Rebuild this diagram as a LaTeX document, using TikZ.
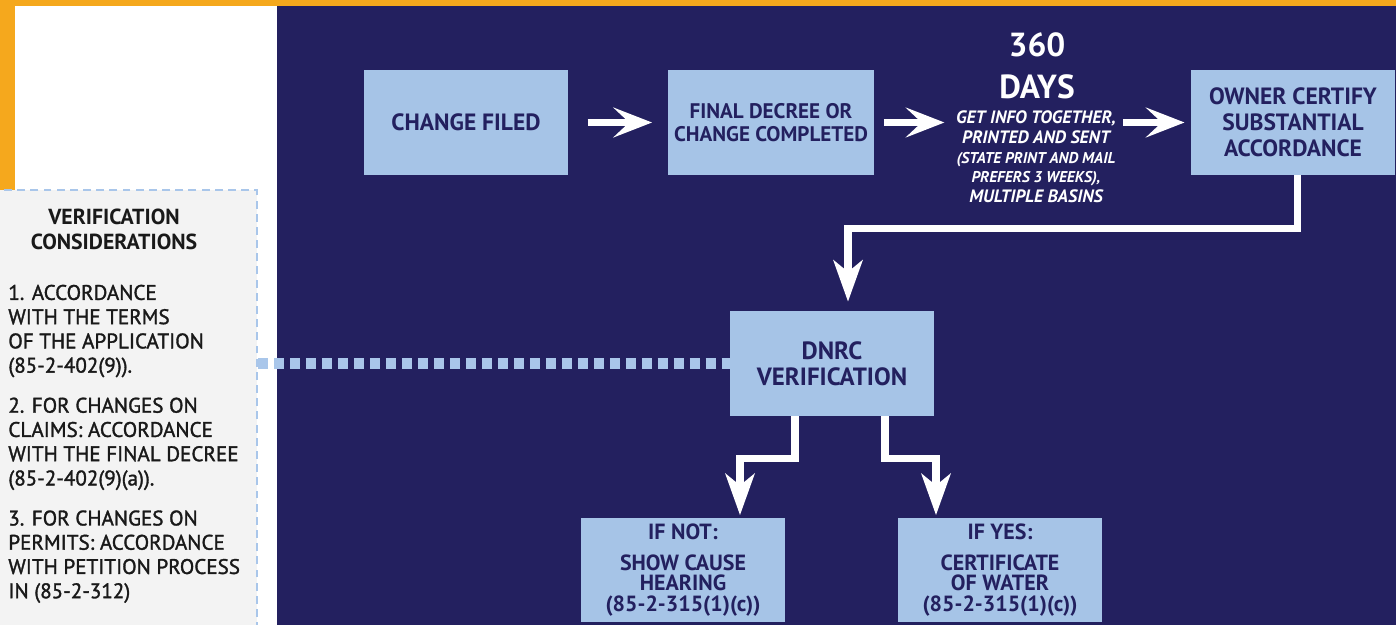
\documentclass[tikz,border=0pt]{standalone}
\usepackage{fontspec}
\setmainfont{PT Sans}
\newfontfamily\medfont[FakeBold=1.5]{PT Sans}
\usetikzlibrary{positioning,calc,arrows.meta}

\definecolor{navy}{RGB}{35,32,95}
\definecolor{boxblue}{RGB}{166,196,231}
\definecolor{goldbar}{RGB}{245,168,29}
\definecolor{panelgray}{RGB}{243,243,243}
\definecolor{dashblue}{RGB}{169,198,234}
\definecolor{inkgray}{RGB}{25,25,25}

\newcommand\infobig{\fontsize{10.2}{11.2}\selectfont}
\newcommand\infosmall{\fontsize{8.9}{11.2}\selectfont}

\tikzset{
  stagebox/.style={fill=boxblue, draw=none, minimum width=4.08cm, minimum height=2.1cm,
    align=center, text=navy, font=\bfseries\fontsize{13.4}{14.7}\selectfont},
  flowarrow/.style={draw=white, line width=4.2pt, -{Stealth[length=22pt,width=17pt,inset=9pt]}},
  elbowarrow/.style={draw=white, line width=4pt, -{Stealth[length=23.5pt,width=16.5pt,inset=6.6pt]}},
  dotlink/.style={draw=dashblue, line width=6.8pt, dash pattern=on 5.7pt off 3.4pt},
  panelbox/.style={fill=panelgray, draw=dashblue, dash pattern=on 4.5pt off 3pt, line width=1.2pt,
    minimum width=5.34cm, minimum height=9cm, inner sep=0pt},
}

\begin{document}
\begin{tikzpicture}[x=0.02cm,y=-0.02cm]
\clip (0,0) rectangle (1396,625);
% background
\fill[white] (0,0) rectangle (1396,625);
\fill[goldbar] (0,0) rectangle (1396,6);
\fill[goldbar] (0,0) rectangle (15,190);
\fill[navy] (277,6) rectangle (1396,640);

% left panel
\node[panelbox] (panel) at (123.5,415) {};
\node[align=center, inner sep=0pt, text=inkgray, font=\bfseries\fontsize{12.4}{14.2}\selectfont] (head) at (114,229) {VERIFICATION\\CONSIDERATIONS};
\node[anchor=north west, align=left, inner sep=0pt, text=inkgray, font=\medfont\fontsize{12}{13.8}\selectfont] (terms) at (8,284.5) {1. ACCORDANCE\\WITH THE TERMS\\OF THE APPLICATION\\(85-2-402(9)).\\[9pt]
2. FOR CHANGES ON\\CLAIMS: ACCORDANCE\\WITH THE FINAL DECREE\\(85-2-402(9)(a)).\\[9pt]
3. FOR CHANGES ON\\PERMITS: ACCORDANCE\\WITH PETITION PROCESS\\IN (85-2-312)};

% top row
\node[stagebox] (filed) at (466,122.5) {CHANGE FILED};
\node[stagebox, font=\bfseries\fontsize{12}{13}\selectfont] (decree) at (771,122.5) {FINAL DECREE OR\\CHANGE COMPLETED};
\node[stagebox] (owner) at (1293,122.5) {OWNER CERTIFY\\SUBSTANTIAL\\ACCORDANCE};
\node[align=center, inner sep=0pt, text=white, font=\bfseries\fontsize{19}{24}\selectfont] (days) at (1037,66) {360\\DAYS};
\node[align=center, inner sep=2pt, text=white, font=\bfseries\itshape\fontsize{10.2}{11.2}\selectfont] (info) at (1036,157) {\infobig GET INFO TOGETHER,\\\infobig PRINTED AND SENT\\\infosmall (STATE PRINT AND MAIL\\\infosmall PREFERS 3 WEEKS),\\\infobig MULTIPLE BASINS};

% verification and outcomes
\node[stagebox, font=\bfseries\fontsize{14.2}{14.7}\selectfont] (dnrc) at (832,363.5) {DNRC\\VERIFICATION};
\node[stagebox, font=\bfseries\fontsize{12.5}{11.5}\selectfont] (ifnot) at (683,570) {IF NOT:\\[6pt]SHOW CAUSE\\HEARING\\(85-2-315(1)(c))};
\node[stagebox, font=\bfseries\fontsize{12.5}{11.5}\selectfont] (ifyes) at (1000,570) {IF YES:\\[6pt]CERTIFICATE\\OF WATER\\(85-2-315(1)(c))};

% arrows
\draw[flowarrow, shorten <=11pt, shorten >=9pt] (filed) -- (decree);
\draw[flowarrow, shorten <=5.5pt, shorten >=4.5pt] (decree.east) -- (decree.east -| info.west);
\draw[flowarrow, shorten <=2pt, shorten >=3.5pt] (owner.west -| info.east) -- (owner.west);
\draw[elbowarrow] ([xshift=2.8pt]owner.south) -- ++(0,53) -| ($(dnrc.north)+(16,-9)$);
\draw[elbowarrow] ($(dnrc.south)+(-37,0)$) -- ++(0,42) -| ($(ifnot.north)+(57,-2)$);
\draw[elbowarrow] ($(dnrc.south)+(53,0)$) -- ++(0,42) -| ($(ifyes.north)+(-64,-2)$);
\draw[dotlink] (panel.east |- dnrc.west) -- (dnrc.west);
\end{tikzpicture}
\end{document}
